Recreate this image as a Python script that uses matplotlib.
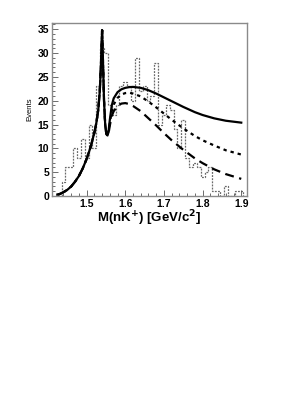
import numpy as np
import matplotlib
matplotlib.use("Agg")
import matplotlib.pyplot as plt
from matplotlib.ticker import MultipleLocator

# histogram: bin edges start at 1.435, width 0.01
bin_lo = 1.435
bin_w = 0.01
counts = [3, 6, 6, 10, 8, 12, 8, 15, 10, 23, 31, 30, 19, 17, 19, 23, 24, 23, 20,
          29, 22, 23, 20, 21, 28, 15, 17, 19, 18, 14, 10, 16, 8, 6, 7, 6, 4, 5, 6,
          1, 1, 0, 2, 0, 0, 1, 1]

# shared part of the three fit curves (up to the dip)
x_left = [1.425, 1.43, 1.44, 1.45, 1.46, 1.47, 1.48, 1.49, 1.50, 1.51, 1.52,
          1.525, 1.53, 1.534, 1.537, 1.540, 1.542, 1.545, 1.548, 1.551, 1.554]
y_left = [0.3, 0.4, 0.8, 1.3, 2.0, 3.0, 4.2, 5.8, 7.8, 10.2, 13.3,
          15.3, 18.0, 22.0, 27.5, 34.8, 29.0, 20.0, 15.0, 13.0, 12.7]

x_tail = [1.557, 1.56, 1.565, 1.57, 1.58, 1.59, 1.60, 1.61, 1.62, 1.64, 1.66,
          1.68, 1.70, 1.72, 1.75, 1.78, 1.80, 1.83, 1.86, 1.90]
solid_tail = [13.8, 16.0, 19.0, 20.5, 21.8, 22.4, 22.7, 22.85, 22.9, 22.7, 22.2,
              21.5, 20.7, 19.9, 18.7, 17.6, 17.0, 16.3, 15.8, 15.4]
dotted_tail = [13.6, 15.3, 17.8, 19.2, 20.6, 21.3, 21.6, 21.7, 21.5, 20.9, 19.8,
               18.6, 17.3, 16.0, 14.2, 12.6, 11.7, 10.6, 9.6, 8.7]
dashed_tail = [13.3, 14.8, 16.8, 17.8, 18.9, 19.4, 19.5, 19.3, 18.9, 17.8, 16.3,
               14.8, 13.2, 11.7, 9.7, 7.9, 6.9, 5.6, 4.6, 3.6]

fig = plt.figure(figsize=(3.05, 3.94), dpi=100)
ax = fig.add_axes([0.170, 0.5025, 0.640, 0.439])

edges = bin_lo + bin_w * np.arange(len(counts) + 1)
ax.stairs(counts, edges, baseline=0, color='#6a6a6a', linestyle=(0, (1.5, 1.0)),
          linewidth=0.9)

xc = np.array(x_left + x_tail)
ax.plot(xc, y_left + dashed_tail, color='k', linewidth=1.6, linestyle=(0, (4, 2.5)))
ax.plot(xc, y_left + dotted_tail, color='k', linewidth=1.6, linestyle=(0, (1.5, 1.8)))
ax.plot(xc, y_left + solid_tail, color='k', linewidth=1.6)

ax.set_xlim(1.41, 1.915)
ax.set_ylim(0, 36.3)
ax.xaxis.set_major_locator(MultipleLocator(0.1))
ax.xaxis.set_minor_locator(MultipleLocator(0.02))
ax.yaxis.set_major_locator(MultipleLocator(5))
ax.yaxis.set_minor_locator(MultipleLocator(1))
ax.tick_params(which='both', direction='in', top=False, right=False,
               color='#555555', width=0.6)
ax.tick_params(which='major', length=4, pad=2)
ax.tick_params(which='minor', length=2)
for lab in ax.get_xticklabels() + ax.get_yticklabels():
    lab.set_fontfamily('Liberation Sans')
    lab.set_fontweight('bold')
    lab.set_fontsize(7.5)
for s in ax.spines.values():
    s.set_color('#8a8a8a')
    s.set_linewidth(1.0)

ax.set_ylabel('Events', fontsize=5.5, family='Liberation Sans', labelpad=3)
ax.set_xlabel(r'M(nK$^{\mathbf{+}}$) [GeV/c$^{\mathbf{2}}$]', fontsize=9.5,
              family='Liberation Sans', fontweight='bold', labelpad=0)

fig.savefig('out.png', dpi=100)
